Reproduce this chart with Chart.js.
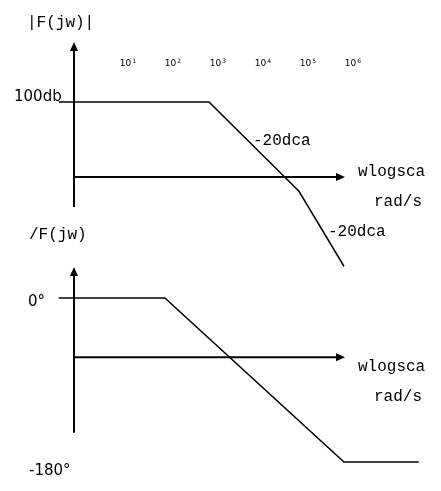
<!DOCTYPE html>
<html><head><meta charset="utf-8">
<script src="https://cdn.jsdelivr.net/npm/chart.js@4/dist/chart.umd.min.js"></script>
<style>html,body{margin:0;padding:0;background:#fff}#wrap{width:441px;height:491px;position:relative}</style>
</head><body><div id="wrap"><canvas id="c" width="441" height="491"></canvas></div>
<script>
// Asymptotic Bode sketch
const magOmega = [0.29, 630, 63000, 630000];      // rad/s
const magDb = [100, 100, -19, -119];               // dB
const phaseOmega = [0.29, 66, 630000, 29000000];   // rad/s
const phaseDeg = [0, 0, -180, -180];               // degrees
const tickValues = [1e1, 1e2, 1e3, 1e4, 1e5, 1e6];
const tickExponents = ['1', '2', '3', '4', '5', '6'];

const mono = '16px "Liberation Mono", "Courier New", monospace';
const sans = '15px "DejaVu Sans", sans-serif';

const axesPlugin = {
  id: 'bodeAxes',
  afterDatasetsDraw(chart) {
    const ctx = chart.ctx;
    const xs = chart.scales.x, ym = chart.scales.yMag, yp = chart.scales.yPhase;
    const X = v => xs.getPixelForValue(v);
    function arrow(x0, y0, x1, y1) {
      const len = 9, half = 4;
      const dx = x1 - x0, dy = y1 - y0, d = Math.hypot(dx, dy);
      const ux = dx / d, uy = dy / d;
      const bx = x1 - ux * len, by = y1 - uy * len;
      ctx.beginPath();
      ctx.moveTo(x0, y0); ctx.lineTo(bx, by); ctx.stroke();
      ctx.beginPath();
      ctx.moveTo(x1, y1);
      ctx.lineTo(bx - uy * half, by + ux * half);
      ctx.lineTo(bx + uy * half, by - ux * half);
      ctx.closePath(); ctx.fill();
    }
    ctx.save();
    ctx.strokeStyle = '#000'; ctx.fillStyle = '#000'; ctx.lineWidth = 2;
    const xAxisOmega = Math.pow(10, -0.2);
    const xTipOmega = Math.pow(10, 1 + 217 / 45);
    // magnitude axes
    arrow(X(xAxisOmega), ym.getPixelForValue(0), X(xTipOmega), ym.getPixelForValue(0));
    arrow(X(xAxisOmega), ym.getPixelForValue(-40), X(xAxisOmega), ym.getPixelForValue(180));
    // phase axes
    arrow(X(xAxisOmega), yp.getPixelForValue(-65), X(xTipOmega), yp.getPixelForValue(-65));
    arrow(X(xAxisOmega), yp.getPixelForValue(-148), X(xAxisOmega), yp.getPixelForValue(34));

    // decade tick labels
    ctx.textBaseline = 'middle';
    tickValues.forEach((v, i) => {
      const px = X(v);
      ctx.font = '9px "DejaVu Sans", sans-serif';
      const w1 = ctx.measureText('10').width;
      ctx.font = '6px "DejaVu Sans", sans-serif';
      const w2 = ctx.measureText(tickExponents[i]).width;
      const start = px - (w1 + w2 + 1) / 2;
      ctx.textAlign = 'left';
      ctx.font = '9px "DejaVu Sans", sans-serif';
      ctx.fillText('10', start, 64);
      ctx.font = '6px "DejaVu Sans", sans-serif';
      ctx.fillText(tickExponents[i], start + w1 + 1, 61);
    });

    // annotations
    ctx.textAlign = 'left';
    ctx.font = mono;
    ctx.fillText('|F(jw)|', 27, 23);
    ctx.fillText('-20dca', 253, 141);
    ctx.fillText('-20dca', 328, 232);
    ctx.fillText('wlogsca', 358, 172);
    ctx.fillText('rad/s', 374, 202);
    ctx.fillText('/F(jw)', 29, 235);
    ctx.fillText('wlogsca', 358, 367);
    ctx.fillText('rad/s', 374, 397);
    ctx.font = sans;
    ctx.fillText('100db', 14, 97);
    ctx.fillText('0°', 28, 302);
    ctx.fillText('-180°', 29, 471);
    ctx.restore();
  }
};

new Chart(document.getElementById('c'), {
  type: 'line',
  data: {
    datasets: [
      {
        label: '|F(jw)|',
        data: magOmega.map((w, i) => ({ x: w, y: magDb[i] })),
        yAxisID: 'yMag',
        borderColor: '#000', borderWidth: 1.5, pointRadius: 0, tension: 0, fill: false
      },
      {
        label: '/F(jw)',
        data: phaseOmega.map((w, i) => ({ x: w, y: phaseDeg[i] })),
        yAxisID: 'yPhase',
        borderColor: '#000', borderWidth: 1.5, pointRadius: 0, tension: 0, fill: false
      }
    ]
  },
  options: {
    responsive: false,
    animation: false,
    layout: { padding: 0 },
    plugins: { legend: { display: false }, tooltip: { enabled: false } },
    scales: {
      x: { type: 'logarithmic', display: false, bounds: 'data',
           min: Math.pow(10, 1 - 128 / 45), max: Math.pow(10, 1 + 313 / 45) },
      yMag: { type: 'linear', display: false, position: 'left', min: -418.67, max: 236 },
      yPhase: { type: 'linear', display: false, position: 'right', min: -211.83, max: 327.07 }
    }
  },
  plugins: [axesPlugin]
});
</script>
</body></html>
